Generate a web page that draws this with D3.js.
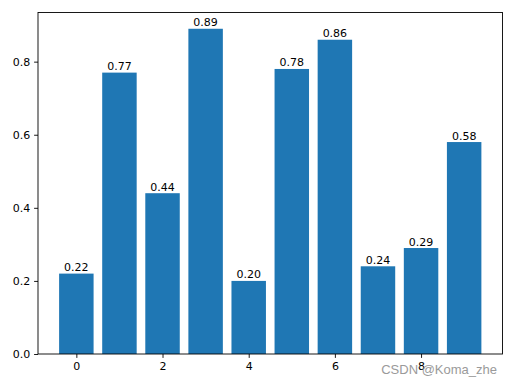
<!DOCTYPE html>
<html>
<head>
<meta charset="utf-8">
<script src="https://cdn.jsdelivr.net/npm/d3@7"></script>
<style>
  body { margin: 0; background: #fff; }
  svg text { font-family: "DejaVu Sans", sans-serif; }
</style>
</head>
<body>
<div id="chart"></div>
<script>
const categories = [0, 1, 2, 3, 4, 5, 6, 7, 8, 9];
const values = [0.22, 0.77, 0.44, 0.89, 0.20, 0.78, 0.86, 0.24, 0.29, 0.58];
const xTicks = [0, 2, 4, 6, 8];
const yTicks = [0.0, 0.2, 0.4, 0.6, 0.8];

const width = 512, height = 384;
const margin = { top: 12.5, right: 9.5, bottom: 30, left: 38 };
const barWidth = 0.8;

const svg = d3.select("#chart").append("svg")
    .attr("width", width)
    .attr("height", height);

// matplotlib style 5% margins on data limits
const xMin = -barWidth / 2, xMax = categories.length - 1 + barWidth / 2;
const xPad = (xMax - xMin) * 0.05;
const yMax = d3.max(values) * 1.05;

const x = d3.scaleLinear()
    .domain([xMin - xPad, xMax + xPad])
    .range([margin.left, width - margin.right]);
const y = d3.scaleLinear()
    .domain([0, yMax])
    .range([height - margin.bottom, margin.top]);

svg.append("g")
    .selectAll("rect")
    .data(categories)
    .enter().append("rect")
    .attr("x", d => x(d - barWidth / 2))
    .attr("width", d => x(d + barWidth / 2) - x(d - barWidth / 2))
    .attr("y", (d, i) => y(values[i]))
    .attr("height", (d, i) => y(0) - y(values[i]))
    .attr("fill", "#1f77b4");

svg.append("g")
    .selectAll("text")
    .data(categories)
    .enter().append("text")
    .attr("x", d => x(d))
    .attr("y", (d, i) => y(values[i]) - 2.5)
    .attr("text-anchor", "middle")
    .attr("font-size", 11)
    .attr("fill", "#000")
    .text((d, i) => d3.format(".2f")(values[i]));

const xAxis = svg.append("g")
    .attr("transform", `translate(0,${height - margin.bottom})`)
    .call(d3.axisBottom(x).tickValues(xTicks).tickFormat(d3.format("d")).tickSize(3.9).tickPadding(3.9));
const yAxis = svg.append("g")
    .attr("transform", `translate(${margin.left},0)`)
    .call(d3.axisLeft(y).tickValues(yTicks).tickFormat(d3.format(".1f")).tickSize(3.9).tickPadding(3.9));

[xAxis, yAxis].forEach(g => {
    g.select(".domain").remove();
    g.selectAll("line").attr("stroke", "#000").attr("stroke-width", 0.9);
    g.selectAll("text").attr("font-size", 11).attr("fill", "#000")
        .style("font-family", "DejaVu Sans, sans-serif");
});

// frame
svg.append("rect")
    .attr("x", margin.left)
    .attr("y", margin.top)
    .attr("width", width - margin.left - margin.right)
    .attr("height", height - margin.top - margin.bottom)
    .attr("fill", "none")
    .attr("stroke", "#000")
    .attr("stroke-width", 0.9);

// watermark
svg.append("text")
    .attr("x", 497)
    .attr("y", 373.5)
    .attr("text-anchor", "end")
    .attr("font-size", 13)
    .attr("fill", "#9a9a9a")
    .style("font-family", "Liberation Sans, Arial, sans-serif")
    .text("CSDN @Koma_zhe");
</script>
</body>
</html>
